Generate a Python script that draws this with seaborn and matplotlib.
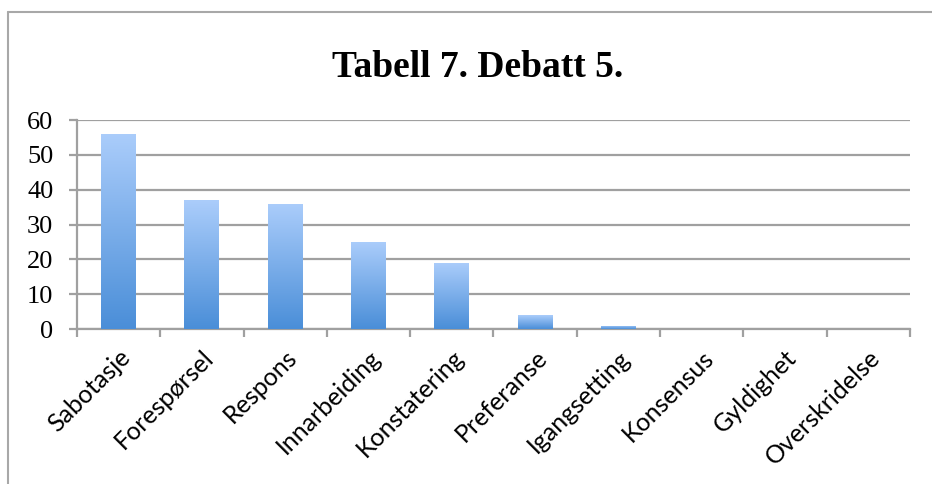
import numpy as np
import pandas as pd
import matplotlib
matplotlib.use('Agg')
import matplotlib.pyplot as plt
import seaborn as sns
from matplotlib.colors import LinearSegmentedColormap
from matplotlib.lines import Line2D

# chart data
categories = ['Sabotasje', 'Forespørsel', 'Respons', 'Innarbeiding', 'Konstatering',
              'Preferanse', 'Igangsetting', 'Konsensus', 'Gyldighet', 'Overskridelse']
counts = [56, 37, 36, 25, 19, 4, 1, 0, 0, 0]
y_ticks = [0, 10, 20, 30, 40, 50, 60]
title = 'Tabell 7. Debatt 5.'

df = pd.DataFrame({'kategori': categories, 'antall': counts})

sns.set_style('white')
grid_col = '#a0a0a0'

fig = plt.figure(figsize=(9.32, 4.84), dpi=100)
ax = fig.add_axes([0.0826, 0.3202, 0.8938, 0.4318])

sns.barplot(data=df, x='kategori', y='antall', ax=ax, width=0.42,
            color='#7aaeea', edgecolor='none', zorder=3)

# gradient fill for each bar (light on top, darker at the bottom)
grad = LinearSegmentedColormap.from_list('bar', ['#4a8ed8', '#abcdfb'])
gvals = np.linspace(0, 1, 256).reshape(-1, 1)
for p in ax.patches:
    x0, y0 = p.get_x(), p.get_y()
    w, h = p.get_width(), p.get_height()
    if h <= 0:
        continue
    p.set_facecolor('none')
    im = ax.imshow(gvals, cmap=grad, origin='lower', aspect='auto',
                   extent=[x0, x0 + w, y0, y0 + h], zorder=3)
    im.set_clip_path(p)

ax.set_xlim(-0.5, len(categories) - 0.5)
ax.set_ylim(0, 60)
ax.set_yticks(y_ticks)
ax.set_yticklabels([str(v) for v in y_ticks], family='Liberation Serif',
                   fontsize=19, color='black')
ax.yaxis.grid(True, color=grid_col, linewidth=1.6, zorder=0)
ax.set_axisbelow(True)

# category ticks at the boundaries, labels at the centers
ax.set_xticks(np.arange(len(categories) + 1) - 0.5, minor=False)
ax.set_xticklabels([])
ax.set_xticks(np.arange(len(categories)), minor=True)
ax.set_xticklabels(categories, minor=True, rotation=45, ha='right', va='top',
                   rotation_mode='anchor', family='Lato', fontsize=18, color='black')
ax.tick_params(axis='x', which='major', direction='out', length=6, width=1.6,
               color=grid_col, bottom=True)
ax.tick_params(axis='x', which='minor', length=0, pad=12)
ax.tick_params(axis='y', direction='out', length=6, width=1.6, color=grid_col,
               left=True, pad=11)
ax.set_xlabel('')
ax.set_ylabel('')

for side in ['top', 'right']:
    ax.spines[side].set_visible(False)
for side in ['left', 'bottom']:
    ax.spines[side].set_color(grid_col)
    ax.spines[side].set_linewidth(1.6)

fig.text(0.513, 0.86, title, ha='center', va='center', family='Liberation Serif',
         fontweight='bold', fontsize=27, color='black')

# outer chart frame (only left and top edges visible)
fig.add_artist(Line2D([0.009, 0.009], [0, 0.975], transform=fig.transFigure,
                      color='#a8a8a8', linewidth=1.5))
fig.add_artist(Line2D([0.009, 1.0], [0.975, 0.975], transform=fig.transFigure,
                      color='#a8a8a8', linewidth=1.5))

fig.savefig('out.png', dpi=100)
